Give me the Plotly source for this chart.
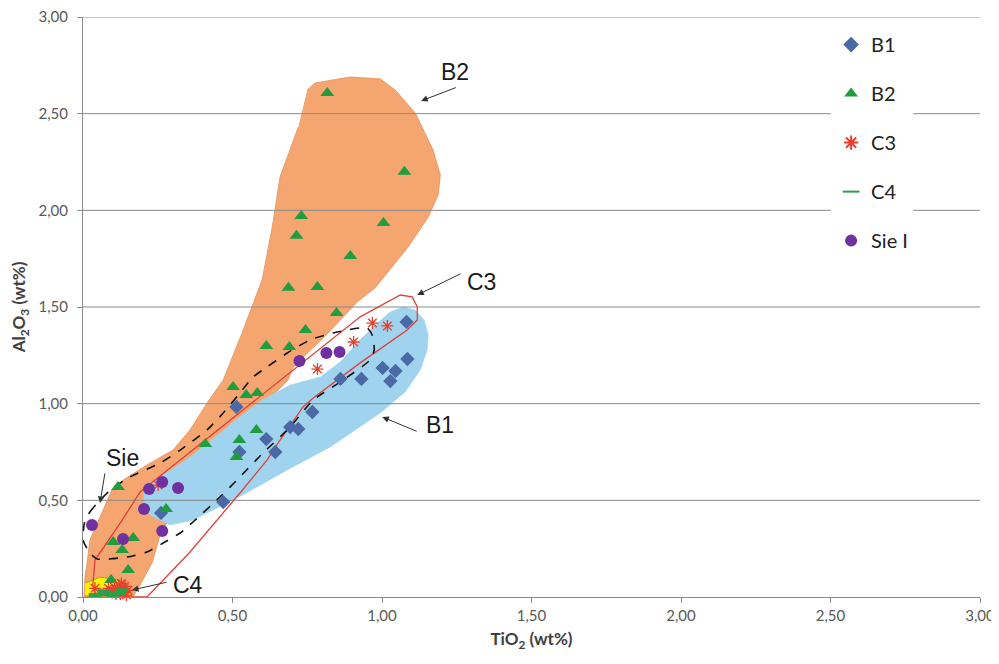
import plotly.graph_objects as go

# ---------------- data (TiO2 wt%, Al2O3 wt%) ----------------
b1_x = [1.082, 1.085, 1.002, 1.045, 1.028, 0.931, 0.861, 0.767, 0.693, 0.720, 0.613, 0.643, 0.523, 0.513, 0.469, 0.261]
b1_y = [1.423, 1.231, 1.185, 1.169, 1.117, 1.128, 1.128, 0.957, 0.879, 0.869, 0.817, 0.750, 0.750, 0.983, 0.491, 0.435]

b2_x = [0.817, 1.075, 0.730, 0.714, 1.005, 0.894, 0.687, 0.784, 0.848, 0.744, 0.613, 0.690, 0.502, 0.546, 0.583,
        0.409, 0.523, 0.580, 0.513, 0.117, 0.278, 0.101, 0.168, 0.131, 0.151, 0.094]
b2_y = [2.607, 2.199, 1.971, 1.868, 1.935, 1.764, 1.599, 1.604, 1.469, 1.381, 1.298, 1.293, 1.086, 1.045, 1.055,
        0.792, 0.812, 0.864, 0.724, 0.569, 0.455, 0.284, 0.305, 0.243, 0.140, 0.088]

c3_x = [0.968, 1.018, 0.905, 0.784, 0.251, 0.040, 0.085, 0.105, 0.115, 0.120, 0.125, 0.130, 0.135, 0.140, 0.145,
        0.110, 0.150, 0.128, 0.100]
c3_y = [1.417, 1.402, 1.319, 1.179, 0.579, 0.045, 0.045, 0.050, 0.030, 0.060, 0.015, 0.045, 0.025, 0.055, 0.010,
        0.015, 0.035, 0.070, 0.030]

c4_x = [0.040, 0.080, 0.100, 0.120, 0.130, 0.070]
c4_y = [0.010, 0.015, 0.010, 0.020, 0.035, 0.030]

sie_x = [0.030, 0.134, 0.204, 0.265, 0.221, 0.265, 0.318, 0.724, 0.814, 0.858]
sie_y = [0.372, 0.300, 0.455, 0.341, 0.559, 0.595, 0.564, 1.221, 1.262, 1.267]

# field outlines (data units)
b2_field_x = [0.750, 0.776, 0.894, 0.994, 1.044, 1.111, 1.171, 1.195, 1.188, 1.155, 1.088, 0.977, 0.917, 0.820, 0.703,
              0.686, 0.492, 0.281, 0.258, 0.231, 0.191, 0.167, 0.003, 0.007, 0.013, 0.023, 0.057, 0.097, 0.134, 0.214,
              0.301, 0.358, 0.415, 0.469, 0.532, 0.569, 0.599, 0.633, 0.659, 0.720]
b2_field_y = [2.623, 2.659, 2.690, 2.680, 2.623, 2.504, 2.312, 2.183, 2.080, 1.966, 1.811, 1.599, 1.526, 1.366, 1.190,
              1.123, 0.812, 0.383, 0.321, 0.176, 0.062, 0.000, 0.000, 0.114, 0.166, 0.295, 0.414, 0.554, 0.605, 0.683,
              0.760, 0.864, 1.004, 1.123, 1.366, 1.521, 1.640, 1.914, 2.173, 2.431]

b1_field_x = [0.201, 0.207, 0.224, 0.291, 0.368, 0.458, 0.535, 0.683, 0.827, 0.994, 1.078, 1.128, 1.151, 1.155, 1.141,
              1.111, 1.071, 1.027, 0.971, 0.927, 0.860, 0.793, 0.693, 0.599, 0.515, 0.442, 0.358, 0.268, 0.214]
b1_field_y = [0.538, 0.466, 0.424, 0.372, 0.398, 0.466, 0.528, 0.657, 0.776, 0.952, 1.061, 1.174, 1.278, 1.355, 1.433,
              1.485, 1.500, 1.474, 1.397, 1.330, 1.216, 1.138, 1.097, 1.019, 0.921, 0.828, 0.724, 0.631, 0.579]

c3_field_x = [0.033, 0.040, 0.131, 0.191, 0.325, 0.515, 0.703, 0.870, 0.927, 1.061, 1.101, 1.118, 1.118, 1.084, 0.927,
              0.770, 0.736, 0.659, 0.616, 0.525, 0.448, 0.358, 0.214, 0.157, 0.040, 0.033]
c3_field_y = [0.062, 0.191, 0.398, 0.543, 0.709, 0.942, 1.174, 1.381, 1.449, 1.562, 1.552, 1.500, 1.433, 1.381, 1.211,
              1.029, 0.983, 0.812, 0.709, 0.538, 0.398, 0.233, 0.000, 0.000, 0.021, 0.062]

sie_field_x = [0.007, 0.023, 0.057, 0.100, 0.157, 0.258, 0.325, 0.415, 0.469, 0.525, 0.569, 0.616, 0.683, 0.760, 0.837,
               0.950, 0.967, 0.974, 0.960, 0.860, 0.770, 0.693, 0.602, 0.525, 0.458, 0.368, 0.325, 0.268, 0.214, 0.147,
               0.047, 0.023, 0.000, 0.007]
sie_field_y = [0.398, 0.440, 0.502, 0.564, 0.621, 0.693, 0.760, 0.864, 0.952, 1.055, 1.138, 1.190, 1.262, 1.330, 1.366,
               1.392, 1.355, 1.278, 1.226, 1.112, 1.019, 0.879, 0.745, 0.621, 0.517, 0.388, 0.331, 0.279, 0.233, 0.207,
               0.197, 0.228, 0.295, 0.398]

c4_field_x = [0.007, 0.057, 0.117, 0.137, 0.157, 0.164, 0.007]
c4_field_y = [0.072, 0.103, 0.088, 0.072, 0.036, 0.005, 0.005]

tick_vals = [0.0, 0.5, 1.0, 1.5, 2.0, 2.5, 3.0]
tick_text = ["0,00", "0,50", "1,00", "1,50", "2,00", "2,50", "3,00"]

# labels: (text, text_x, text_y, arrow tail x, y, arrow head x, y)
field_labels = [
    ("B2", 1.245, 2.716, 1.252, 2.638, 1.131, 2.566),
    ("C3", 1.332, 1.630, 1.268, 1.676, 1.118, 1.562),
    ("B1", 1.195, 0.890, 1.121, 0.854, 1.001, 0.931),
    ("Sie", 0.131, 0.719, 0.074, 0.647, 0.057, 0.486),
    ("C4", 0.351, 0.062, 0.284, 0.078, 0.164, 0.036),
]

GRID = "#8a8a8a"
fig = go.Figure()

# filled fields
fig.add_trace(go.Scatter(x=b2_field_x, y=b2_field_y, fill="toself", fillcolor="#F5A56F", mode="lines",
                         line=dict(color="#E3925C", width=0.8), showlegend=False, hoverinfo="skip"))
fig.add_trace(go.Scatter(x=b1_field_x, y=b1_field_y, fill="toself", fillcolor="#9FD3EE", mode="lines",
                         line=dict(color="#9FD3EE", width=0.5), showlegend=False, hoverinfo="skip"))
fig.add_trace(go.Scatter(x=c4_field_x, y=c4_field_y, fill="toself", fillcolor="#FFF200", mode="lines",
                         line=dict(color="#9C8F1A", width=0.8), showlegend=False, hoverinfo="skip"))

# gridlines drawn over fields
for v in tick_vals[1:]:
    fig.add_trace(go.Scatter(x=[0, 3], y=[v, v], mode="lines", line=dict(color=GRID, width=1),
                             showlegend=False, hoverinfo="skip", cliponaxis=False))

# outline-only fields
fig.add_trace(go.Scatter(x=c3_field_x, y=c3_field_y, mode="lines", line=dict(color="#E0403A", width=1.3),
                         showlegend=False, hoverinfo="skip"))
fig.add_trace(go.Scatter(x=sie_field_x, y=sie_field_y, mode="lines",
                         line=dict(color="#111111", width=1.6, dash="dash", shape="spline", smoothing=0.6),
                         showlegend=False, hoverinfo="skip"))

# data series
fig.add_trace(go.Scatter(x=b1_x, y=b1_y, mode="markers", name="B1", legendgroup="b1",
                         marker=dict(symbol="diamond", size=11, color="#4A69A6"), cliponaxis=False))
fig.add_trace(go.Scatter(x=b2_x, y=b2_y, mode="markers", name="B2", legendgroup="b2",
                         marker=dict(symbol="triangle-up", size=12, color="#1E9E3E"), cliponaxis=False))
fig.add_trace(go.Scatter(x=c3_x, y=c3_y, mode="markers", name="C3", legendgroup="c3",
                         marker=dict(symbol="asterisk-open", size=10, color="#E8402F",
                                     line=dict(color="#E8402F", width=1.3)),
                         cliponaxis=False))
fig.add_trace(go.Scatter(x=c4_x, y=c4_y, mode="markers", name="C4", legendgroup="c4",
                         marker=dict(symbol="line-ew-open", size=9, color="#2E9E48",
                                     line=dict(color="#2E9E48", width=4)),
                         cliponaxis=False))
fig.add_trace(go.Scatter(x=sie_x, y=sie_y, mode="markers", name="Sie I", legendgroup="sie",
                         marker=dict(symbol="circle", size=12, color="#70309F"), cliponaxis=False))

annotations = []
for text, tx, ty, ax, ay, hx, hy in field_labels:
    annotations.append(dict(x=tx, y=ty, xref="x", yref="y", text=text, showarrow=False,
                            font=dict(family="Liberation Sans, Arial", size=23, color="#1a1a1a")))
    annotations.append(dict(x=hx, y=hy, ax=ax, ay=ay, xref="x", yref="y", axref="x", ayref="y", text="",
                            showarrow=True, arrowhead=2, arrowsize=1.3, arrowwidth=1, arrowcolor="#333333"))

# the page body adds an 8px offset; the figure is sized so the plot lands where the reference has it
fig.update_layout(
    width=991, height=648,
    margin=dict(l=75, r=19, t=9, b=59),
    paper_bgcolor="white", plot_bgcolor="white",
    font=dict(family="Lato, Open Sans, sans-serif", color="#595959"),
    showlegend=True,
    legend=dict(x=0.834, y=0.986, xanchor="left", yanchor="top", bgcolor="white", borderwidth=0,
                font=dict(size=20, color="#222222", family="Lato, sans-serif"),
                tracegroupgap=20, itemsizing="constant"),
    annotations=annotations,
    xaxis=dict(range=[0, 3], tickvals=tick_vals, ticktext=tick_text, showgrid=False, zeroline=False,
               automargin=False, ticklabeloverflow="allow",
               showline=True, linecolor=GRID, linewidth=1, ticks="outside", ticklen=5, tickcolor=GRID,
               tickfont=dict(size=15, color="#595959"),
               title=dict(text="<b>TiO<sub>2</sub> (wt%)</b>", font=dict(size=17, color="#404040"), standoff=10)),
    yaxis=dict(range=[0, 3], tickvals=tick_vals, ticktext=tick_text, showgrid=False, zeroline=False,
               automargin=False, ticklabeloverflow="allow",
               showline=True, linecolor=GRID, linewidth=1, ticks="outside", ticklen=5, tickcolor=GRID,
               tickfont=dict(size=15, color="#595959"), ticklabelstandoff=6,
               title=dict(text="<b>Al<sub>2</sub>O<sub>3</sub> (wt%)</b>", font=dict(size=17, color="#404040"),
                          standoff=10)),
)

fig.write_html("out.html")
